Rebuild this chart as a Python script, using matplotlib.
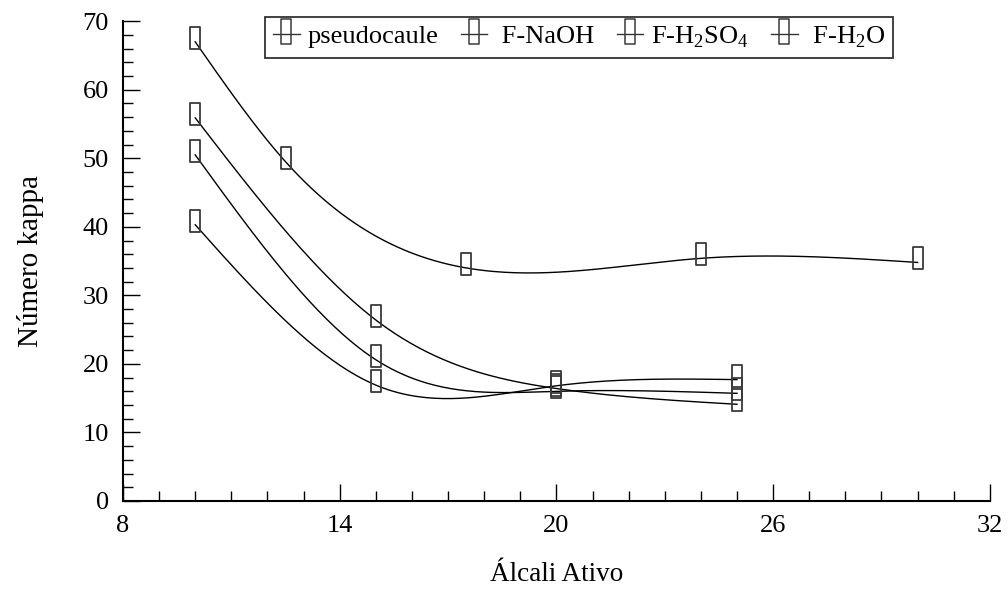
import matplotlib.pyplot as plt
import numpy as np
from matplotlib.path import Path
from matplotlib.ticker import FixedLocator, MultipleLocator

plt.rcParams["font.family"] = ["Liberation Serif", "DejaVu Serif"]
plt.rcParams["mathtext.fontset"] = "custom"
plt.rcParams["mathtext.rm"] = "Liberation Serif"

# kappa number vs active alkali
x_pseudo = [10, 12.5, 17.5, 24, 30]
y_pseudo = [67.0, 49.5, 34.0, 35.4, 34.8]

x_fib = [10, 15, 20, 25]
y_naoh = [55.9, 26.4, 16.4, 14.1]
y_h2so4 = [50.5, 20.6, 16.0, 15.7]
y_h2o = [40.3, 16.9, 16.8, 17.7]

labels = ["pseudocaule", " F-NaOH", r"F-H$_2$SO$_4$", r" F-H$_2$O"]
x_ticks = [8, 14, 20, 26, 32]


def natural_spline(x, y, n=200):
    x = np.asarray(x, float)
    y = np.asarray(y, float)
    k = len(x)
    h = np.diff(x)
    a = np.zeros((k, k))
    b = np.zeros(k)
    a[0, 0] = a[-1, -1] = 1
    for i in range(1, k - 1):
        a[i, i - 1] = h[i - 1]
        a[i, i] = 2 * (h[i - 1] + h[i])
        a[i, i + 1] = h[i]
        b[i] = 6 * ((y[i + 1] - y[i]) / h[i] - (y[i] - y[i - 1]) / h[i - 1])
    m = np.linalg.solve(a, b)
    xs = np.linspace(x[0], x[-1], n)
    idx = np.clip(np.searchsorted(x, xs) - 1, 0, k - 2)
    x0, x1 = x[idx], x[idx + 1]
    hh = x1 - x0
    t0, t1 = x1 - xs, xs - x0
    ys = (m[idx] * t0**3 + m[idx + 1] * t1**3) / (6 * hh) \
        + (y[idx] / hh - m[idx] * hh / 6) * t0 \
        + (y[idx + 1] / hh - m[idx + 1] * hh / 6) * t1
    return xs, ys


# tall empty box, sitting a little above the point
box = Path([(-0.21, -0.32), (0.21, -0.32), (0.21, 0.68), (-0.21, 0.68), (-0.21, -0.32)],
           [Path.MOVETO, Path.LINETO, Path.LINETO, Path.LINETO, Path.CLOSEPOLY])
# same box for the legend, line crossing just under the middle
legend_box = Path([(-0.21, -0.4), (0.21, -0.4), (0.21, 0.6), (-0.21, 0.6), (-0.21, -0.4)],
                  [Path.MOVETO, Path.LINETO, Path.LINETO, Path.LINETO, Path.CLOSEPOLY])

fig = plt.figure(figsize=(10.08, 5.90), dpi=100)
ax = fig.add_axes([0.122, 0.151, 0.860, 0.813])

series = [(x_pseudo, y_pseudo), (x_fib, y_naoh), (x_fib, y_h2so4), (x_fib, y_h2o)]
for (xs, ys), lab in zip(series, labels):
    sx, sy = natural_spline(xs, ys)
    ax.plot(sx, sy, color="black", lw=1.0)
    ax.plot(xs, ys, ls="none", marker=box, ms=22, mfc="none", mec="#3a3a3a", mew=1.3)
    ax.plot([], [], color="#333333", lw=1.0, marker=legend_box, ms=22, mfc="none",
            mec="#3a3a3a", mew=1.1, label=lab)

ax.set_xlim(8, 32)
ax.set_ylim(0, 70)
ax.xaxis.set_major_locator(FixedLocator(x_ticks))
ax.xaxis.set_minor_locator(MultipleLocator(1))
ax.yaxis.set_major_locator(MultipleLocator(10))
ax.yaxis.set_minor_locator(MultipleLocator(2))
ax.tick_params(which="both", direction="in", labelsize=19, width=1.0, pad=10)
ax.tick_params(which="major", length=12)
ax.tick_params(which="minor", length=7)
ax.spines["top"].set_visible(False)
ax.spines["right"].set_visible(False)
ax.spines["left"].set_linewidth(1.5)
ax.spines["bottom"].set_linewidth(1.5)

ax.set_xlabel("Álcali Ativo", fontsize=19.5, labelpad=18)
ax.set_ylabel("Número kappa", fontsize=21, labelpad=28)

leg = ax.legend(loc="upper center", bbox_to_anchor=(0.5745, 0.972), bbox_transform=fig.transFigure,
                ncol=4, fontsize=19, frameon=True, fancybox=False, handlelength=1.0,
                handletextpad=0.3, columnspacing=0.85, borderpad=0.3, borderaxespad=0)
leg.get_frame().set_edgecolor("black")
leg.get_frame().set_linewidth(1.3)

fig.savefig("out.png", dpi=100)
